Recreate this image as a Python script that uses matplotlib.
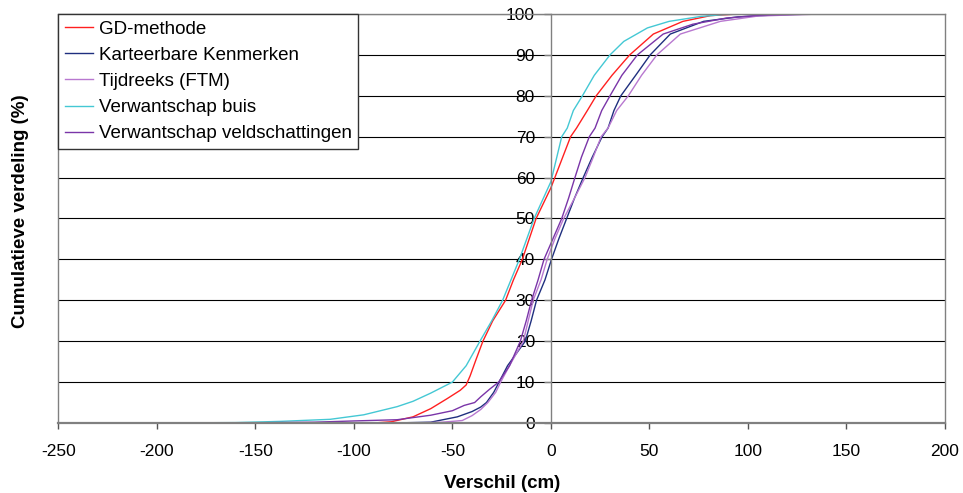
import matplotlib
matplotlib.use("Agg")
import matplotlib.pyplot as plt
import numpy as np

plt.rcParams['font.family'] = ['Liberation Sans', 'DejaVu Sans']
plt.rcParams['axes.unicode_minus'] = False

# cumulative distributions (x = verschil in cm, y = %)
gd_x = [-90, -81, -70, -61, -52.5, -46, -43, -41, -38, -34.5, -29.5, -23, -19, -14.5, -11, -7.5,
        0, 2, 6, 10, 13, 18.5, 23, 31, 40, 52, 67, 81, 95, 118]
gd_y = [0, 0.3, 1.5, 3.5, 6, 8, 9.3, 11.5, 15.5, 20, 25, 30, 35, 40, 45, 50,
        57.5, 60, 65, 70, 72.1, 76.4, 80, 85, 90, 95.1, 98.2, 99.6, 100, 100]

kk_x = [-80, -61, -47.5, -40, -35.6, -32.7, -29, -26.3, -22, -13, -10, -7.3, -3, 0.3, 4, 8, 12,
        16.4, 21, 26, 29, 32, 35.5, 43, 50.4, 60.6, 77.5, 95, 115, 135]
kk_y = [0, 0.2, 1.5, 2.8, 3.9, 5, 7.5, 10, 14, 20, 25, 30, 35, 40, 45, 50, 55,
        60, 65, 70, 72.1, 76.4, 80, 85, 90, 95.1, 98.2, 99.3, 99.8, 100]

ftm_x = [-70, -55, -45, -40, -35.6, -32, -28, -25.5, -21, -14, -9, -5, -1.9, 2, 6.5, 12,
         17.3, 21.5, 25.5, 29, 33.4, 39.3, 46, 53.8, 65.7, 86, 105, 137]
ftm_y = [0, 0.2, 0.6, 1.8, 3.3, 5, 7.5, 10, 14, 20, 30, 35, 40, 45, 50, 55,
         60, 65, 70, 72.1, 76.4, 80, 85, 90, 95.1, 98.2, 99.5, 100]

buis_x = [-200, -160, -137, -112, -95, -78, -70, -61, -50, -43, -36, -30, -24.5, -16, -8.5,
          0, 3, 5.5, 8.3, 11.4, 16, 22, 30, 37, 49, 60, 76, 89, 110, 155]
buis_y = [0, 0.1, 0.4, 0.9, 2.0, 4.0, 5.3, 7.3, 10, 14, 20, 25, 30, 40, 50,
          59, 65, 70, 72.1, 76.4, 80, 85, 90, 93.3, 96.6, 98.2, 99.4, 99.9, 100, 100]

veld_x = [-160, -120, -100, -78, -61, -50, -44, -38.7, -35.6, -31, -26.5, -21, -15.5, -12.5,
          -9.8, -6.5, -3.5, 1, 5.5, 9, 12.2, 15.5, 19.5, 22.4, 25.8, 30, 36, 43.9, 57, 72,
          89, 106, 130]
veld_y = [0, 0.2, 0.5, 0.8, 1.9, 3, 4.3, 5, 6.4, 8.3, 10, 14, 20, 25,
          30, 35, 40, 45, 50, 55, 60, 65, 70, 72.1, 76.4, 80, 85, 90, 95.1, 97.5,
          99, 99.7, 100]

labels = ["GD-methode", "Karteerbare Kenmerken", "Tijdreeks (FTM)",
          "Verwantschap buis", "Verwantschap veldschattingen"]
colors = ['#FF2020', '#1F2F7F', '#B878D0', '#44C8D4', '#7A35A8']
series = [(gd_x, gd_y), (kk_x, kk_y), (ftm_x, ftm_y), (buis_x, buis_y), (veld_x, veld_y)]

xticks = list(range(-250, 201, 50))
yticks = list(range(0, 101, 10))

fig = plt.figure(figsize=(9.63, 4.93), dpi=100)
ax = fig.add_axes([0.0605, 0.142, 0.9208, 0.8296])

for (x, y), lab, c in zip(series, labels, colors):
    ax.plot(x, y, color=c, lw=1.0, label=lab)

ax.set_xlim(-250, 200)
ax.set_ylim(0, 100)
ax.set_xticks(xticks)
ax.set_yticks(yticks)
ax.yaxis.grid(True, color='black', lw=0.8)

# y axis sits at x = 0, frame drawn in gray
ax.spines['left'].set_position(('data', 0))
for s in ['left', 'right', 'top']:
    ax.spines[s].set_color('#808080')
    ax.spines[s].set_linewidth(1.0)
ax.spines['bottom'].set_color('#808080')
ax.spines['bottom'].set_linewidth(1.6)
ax.axvline(-250, color='#808080', lw=1.0, clip_on=False)

ax.tick_params(axis='y', direction='out', length=5, width=1, color='#808080',
               pad=6.5, labelsize=12.5)
ax.tick_params(axis='x', direction='out', length=4.5, width=1, color='#555555',
               pad=10.5, labelsize=12.5)

ax.set_xlabel("Verschil (cm)", fontsize=13.5, fontweight='bold', labelpad=12)
fig.text(0.0215, 0.572, "Cumulatieve verdeling (%)", rotation=90, ha='center', va='center',
         fontsize=13.5, fontweight='bold')

leg = ax.legend(loc='upper left', bbox_to_anchor=(0, 1), borderaxespad=0, fontsize=13.5,
                labelspacing=0.48, handlelength=1.5, handletextpad=0.3, borderpad=0.35,
                fancybox=False, framealpha=1, edgecolor='#333333')
leg.get_frame().set_linewidth(1.0)

plt.savefig("out.png", dpi=100)
